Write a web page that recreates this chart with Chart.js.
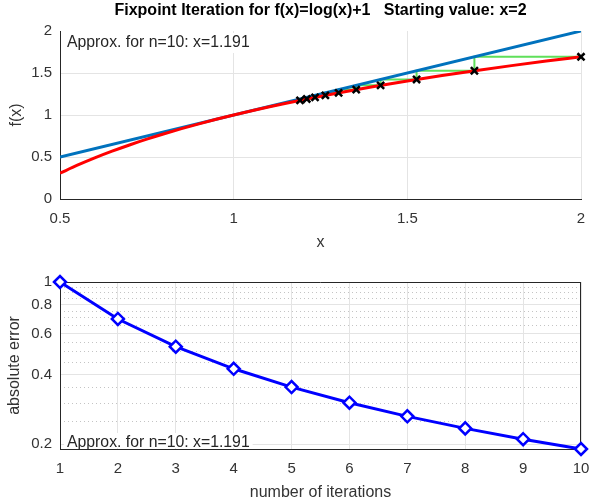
<!DOCTYPE html>
<html><head><meta charset="utf-8">
<script src="https://cdn.jsdelivr.net/npm/chart.js@4.4.0/dist/chart.umd.min.js"></script>
<style>
html,body{margin:0;padding:0;background:#fff;width:590px;height:504px;overflow:hidden}
canvas{position:absolute;left:0}
#c1{top:0}
#c2{top:250px}
</style></head><body>
<canvas id="c1" width="590" height="262"></canvas>
<canvas id="c2" width="590" height="254"></canvas>
<script>
// ---- data ----
const curveX = [0.5,0.55,0.6,0.65,0.7,0.75,0.8,0.85,0.9,0.95,1.0,1.1,1.2,1.3,1.4,1.5,1.6,1.7,1.8,1.9,2.0];
const curveY = [0.3069,0.4022,0.4892,0.5692,0.6433,0.7123,0.7769,0.8375,0.8946,0.9487,1.0,1.0953,1.1823,1.2624,1.3365,1.4055,1.4700,1.5306,1.5878,1.6419,1.6931];
const diagX = [0.5, 2];
const diagY = [0.5, 2];
const iterates = [2, 1.6931, 1.5266, 1.4230, 1.3528, 1.3022, 1.2640, 1.2343, 1.2105, 1.1910, 1.1748];
const iterations = [1,2,3,4,5,6,7,8,9,10];
const absError = [1, 0.6931, 0.5266, 0.4230, 0.3528, 0.3022, 0.2640, 0.2343, 0.2105, 0.1910];
const xTicksTop = [0.5, 1, 1.5, 2];
const yTicksTop = [0, 0.5, 1, 1.5, 2];
const xTicksBottom = [1,2,3,4,5,6,7,8,9,10];
const yTicksBottom = [0.2, 0.4, 0.6, 0.8, 1];
const yMinorBottom = [0.25,0.3,0.35,0.45,0.5,0.55,0.65,0.7,0.75,0.85,0.9,0.95];
const titleText = 'Fixpoint Iteration for f(x)=log(x)+1   Starting value: x=2';
const noteText = 'Approx. for n=10: x=1.191';

// ---- derived point lists ----
const curvePts = curveX.map((x,i)=>({x, y: curveY[i]}));
const diagPts = diagX.map((x,i)=>({x, y: diagY[i]}));
const markerPts = [];
for (let i=0;i<iterates.length-1;i++) markerPts.push({x: iterates[i], y: iterates[i+1]});
const cobweb = [];
for (let i=0;i<iterates.length-2;i++){
  cobweb.push({x: iterates[i], y: iterates[i+1]});
  cobweb.push({x: iterates[i+1], y: iterates[i+1]});
  cobweb.push({x: iterates[i+1], y: iterates[i+2]});
}
const errPts = iterations.map((x,i)=>({x, y: absError[i]}));

Chart.defaults.font.family = '"Liberation Sans", Arial, sans-serif';
Chart.defaults.color = '#333';
const FONT = {size: 15};
const LFONT = {size: 16};
const AX = '#262626';
const GRID = '#e4e4e4';

function notePlugin(yCenterFn, boxBottomFn){
  return {
    id: 'note',
    afterDatasetsDraw(chart){
      const ctx = chart.ctx, a = chart.chartArea;
      ctx.save();
      ctx.font = '15.8px "Liberation Sans", Arial, sans-serif';
      const w = ctx.measureText(noteText).width;
      const x = a.left + 7, yc = yCenterFn(a);
      ctx.fillStyle = '#fff';
      const top = yc - 10;
      const bottom = boxBottomFn ? boxBottomFn(a) : yc + 10;
      ctx.fillRect(x - 3, top, w + 6, bottom - top);
      ctx.fillStyle = '#262626';
      ctx.textBaseline = 'middle';
      ctx.fillText(noteText, x, yc);
      ctx.restore();
    }
  };
}

function fixX(h){ return s => { s.height = h; s.paddingLeft = 0; s.paddingRight = 0; }; }

new Chart(document.getElementById('c1'), {
  type: 'scatter',
  data: { datasets: [
    { data: markerPts, showLine: false, pointStyle: 'crossRot', pointRadius: 5, borderColor: '#000', borderWidth: 2.5, clip: false },
    { data: curvePts, showLine: true, borderColor: '#f00', borderWidth: 3, pointRadius: 0, tension: 0.4, cubicInterpolationMode: 'monotone' },
    { data: diagPts, showLine: true, borderColor: '#0072BD', borderWidth: 3, pointRadius: 0 },
    { data: cobweb, showLine: true, borderColor: '#5fe05a', borderWidth: 2, pointRadius: 0 }
  ]},
  options: {
    responsive: false, animation: false, devicePixelRatio: 1,
    layout: { padding: {top: 0, right: 9, left: 0, bottom: 0} },
    plugins: {
      legend: {display: false}, tooltip: {enabled: false},
      title: { display: true, fullSize: false, text: titleText, color: '#000', font: {size: 16, weight: 'bold'}, padding: {top: 1, bottom: 10.8} }
    },
    scales: {
      x: { type: 'linear', min: 0.5, max: 2,
        afterBuildTicks: s => { s.ticks = xTicksTop.map(v=>({value:v})); },
        afterFit: fixX(63),
        ticks: { font: FONT, padding: 11, callback: v => String(v), maxRotation: 0 },
        grid: { color: GRID, drawTicks: false },
        border: { color: AX, width: 1 },
        title: { display: true, text: 'x', font: {size: 16}, color: '#333', padding: {top: 0, bottom: 9.4} }
      },
      y: { type: 'linear', min: 0, max: 2,
        afterBuildTicks: s => { s.ticks = yTicksTop.map(v=>({value:v})); },
        afterFit: s => { s.width = 60; },
        ticks: { font: FONT, padding: 8, callback: v => String(v) },
        grid: { color: c => (c.tick && c.tick.value === 2) ? 'rgba(0,0,0,0)' : GRID, drawTicks: false },
        border: { color: AX, width: 1 },
        title: { display: true, text: 'f(x)', font: LFONT, color: '#333', padding: {top: 7.4, bottom: 0} }
      }
    }
  },
  plugins: [notePlugin(a => a.top + 12)]
});

const boxPlugin = {
  id: 'box',
  beforeDatasetsDraw(chart){
    const ctx = chart.ctx, a = chart.chartArea;
    ctx.save();
    ctx.strokeStyle = AX; ctx.lineWidth = 1;
    ctx.beginPath();
    ctx.moveTo(a.left, a.top + 0.5); ctx.lineTo(a.right, a.top + 0.5);
    ctx.moveTo(a.right - 0.5, a.top); ctx.lineTo(a.right - 0.5, a.bottom);
    ctx.stroke();
    ctx.restore();
  }
};

new Chart(document.getElementById('c2'), {
  type: 'scatter',
  data: { datasets: [
    { data: errPts, showLine: true, borderColor: '#0000ff', borderWidth: 3, pointStyle: 'rectRot', pointRadius: 6, pointBorderWidth: 2.5, pointBackgroundColor: '#fff', pointBorderColor: '#0000ff', clip: false }
  ]},
  options: {
    responsive: false, animation: false, devicePixelRatio: 1,
    layout: { padding: {top: 32, right: 9, left: 0, bottom: 0} },
    plugins: { legend: {display: false}, tooltip: {enabled: false} },
    scales: {
      x: { type: 'linear', min: 1, max: 10,
        afterBuildTicks: s => { s.ticks = xTicksBottom.map(v=>({value:v})); },
        afterFit: fixX(55),
        ticks: { font: FONT, padding: 11, callback: v => String(v), maxRotation: 0 },
        grid: { color: GRID, drawTicks: false },
        border: { color: AX, width: 1 },
        title: { display: true, text: 'number of iterations', font: LFONT, color: '#333', padding: {top: 0, bottom: 1.4} }
      },
      ym: { type: 'logarithmic', position: 'left', min: 0.191, max: 1,
        afterBuildTicks: s => { s.ticks = yMinorBottom.map(v=>({value:v})); },
        afterFit: s => { s.width = 0; },
        ticks: { display: false },
        grid: { color: '#c4c4c4', drawTicks: false },
        border: { display: false, dash: [1, 3] }
      },
      y: { type: 'logarithmic', position: 'left', min: 0.191, max: 1,
        afterBuildTicks: s => { s.ticks = yTicksBottom.map(v=>({value:v})); },
        afterFit: s => { s.width = 60; },
        ticks: { font: FONT, padding: 8, callback: v => String(v) },
        grid: { color: GRID, drawTicks: false },
        border: { color: AX, width: 1 },
        title: { display: true, text: 'absolute error', font: LFONT, color: '#333', padding: {top: 5, bottom: 0} }
      }
    }
  },
  plugins: [boxPlugin, notePlugin(a => a.bottom - 6, a => a.bottom - 1)]
});
</script>
</body></html>
